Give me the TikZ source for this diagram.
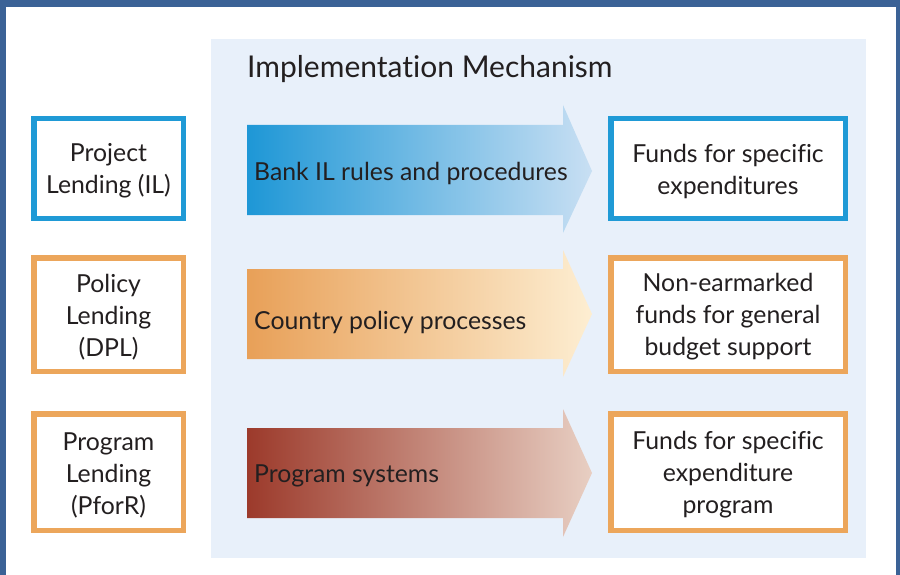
\documentclass[tikz,border=0pt]{standalone}
\usepackage{fontspec}
\setmainfont{Lato}[Ligatures=NoCommon]
\definecolor{frameblue}{RGB}{59,98,150}
\definecolor{panel}{RGB}{232,240,250}
\definecolor{ilblue}{RGB}{31,154,214}
\definecolor{orng}{RGB}{236,166,91}
\definecolor{txt}{RGB}{35,31,32}
\definecolor{aoneL}{RGB}{30,151,214}
\definecolor{aoneR}{RGB}{200,223,243}
\definecolor{atwoL}{RGB}{232,160,88}
\definecolor{atwoR}{RGB}{253,238,210}
\definecolor{athreeL}{RGB}{156,58,43}
\definecolor{athreeR}{RGB}{232,207,195}
\tikzset{
  boxtext/.style={font=\fontsize{24.8}{32}\selectfont, text=txt, align=center, inner sep=0pt},
  lbox/.style={draw, line width=5.5pt, fill=white, minimum width=149.5pt, inner sep=0pt},
  rbox/.style={draw, line width=5.5pt, fill=white, minimum width=234.5pt, inner sep=0pt},
  arrtext/.style={font=\fontsize{24.8}{28}\selectfont, text=txt, anchor=west, inner sep=0pt},
}
\begin{document}
\begin{tikzpicture}[x=1pt,y=-1pt]
\useasboundingbox (0,0) rectangle (900,575);
% frame
\fill[frameblue] (0,0) rectangle (900,575);
\fill[white] (6,7) rectangle (896,576);
% panel
\fill[panel] (211,39) rectangle (866,558);
\node[font=\fontsize{30}{34}\selectfont, text=txt, anchor=west, inner sep=0pt] (title) at (247,69) {Implementation Mechanism};
% arrows
\shade[left color=aoneL, right color=aoneR] (247,125) -- (563,125) -- (563,105) -- (592,171) -- (563,233) -- (563,215) -- (247,215) -- cycle;
\shade[left color=atwoL, right color=atwoR] (247,269) -- (563,269) -- (563,250) -- (592,314) -- (563,377) -- (563,359) -- (247,359) -- cycle;
\shade[left color=athreeL, right color=athreeR] (247,428) -- (563,428) -- (563,409) -- (592,473) -- (563,537) -- (563,518) -- (247,518) -- cycle;
\node[arrtext] (a1) at (254,173) {Bank IL rules and procedures};
\node[arrtext] (a2) at (254,322) {Country policy processes};
\node[arrtext] (a3) at (254,476) {Program systems};
% left boxes
\node[lbox, draw=ilblue, minimum height=99.5pt] (l1) at (108.5,168.5) {};
\node[lbox, draw=orng, minimum height=113.5pt] (l2) at (108.5,314.5) {};
\node[lbox, draw=orng, minimum height=116.5pt] (l3) at (108.5,472) {};
\node[boxtext] (l1t) at (108.5,171) {Project\\Lending (IL)};
\node[boxtext] (l2t) at (108.5,317) {Policy\\Lending\\(DPL)};
\node[boxtext] (l3t) at (108.5,475) {Program\\Lending\\(PforR)};
% right boxes
\node[rbox, draw=ilblue, minimum height=99.5pt] (r1) at (728,168.5) {};
\node[rbox, draw=orng, minimum height=113.5pt] (r2) at (728,314.5) {};
\node[rbox, draw=orng, minimum height=116.5pt] (r3) at (728,472) {};
\node[boxtext] (r1t) at (728,171) {Funds for specific\\expenditures};
\node[boxtext] (r2t) at (728,317) {Non-earmarked\\funds for general\\budget support};
\node[boxtext] (r3t) at (728,475) {Funds for specific\\expenditure\\program};
\end{tikzpicture}
\end{document}
